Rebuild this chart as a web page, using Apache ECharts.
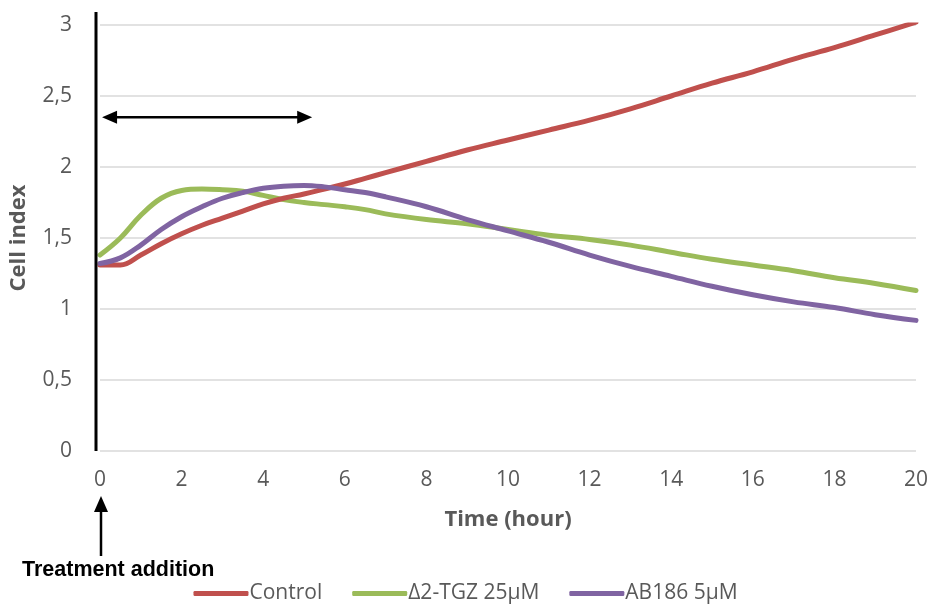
<!DOCTYPE html>
<html>
<head>
<meta charset="utf-8">
<script src="https://cdn.jsdelivr.net/npm/echarts@6/dist/echarts.min.js"></script>
<style>
html,body{margin:0;padding:0;background:#fff;}
#main{width:931px;height:608px;}
</style>
</head>
<body>
<div id="main"></div>
<script>
const times   = [0,0.5,1,1.5,2,2.5,3,3.5,4,4.5,5,5.5,6,6.5,7,8,9,10,11,12,13,14,15,16,17,18,19,20];
const control = [1.31,1.31,1.38,1.46,1.53,1.59,1.64,1.69,1.74,1.78,1.81,1.845,1.88,1.92,1.96,2.04,2.12,2.19,2.26,2.33,2.41,2.50,2.59,2.67,2.76,2.84,2.93,3.02];
const tgz     = [1.38,1.50,1.66,1.78,1.835,1.845,1.84,1.83,1.80,1.77,1.75,1.735,1.72,1.70,1.67,1.63,1.60,1.56,1.52,1.49,1.45,1.40,1.35,1.31,1.27,1.22,1.18,1.13];
const ab186   = [1.32,1.36,1.45,1.56,1.65,1.72,1.78,1.82,1.85,1.865,1.87,1.86,1.84,1.82,1.79,1.72,1.63,1.55,1.47,1.38,1.30,1.23,1.16,1.10,1.05,1.01,0.96,0.92];
const seriesNames = ['Control','Δ2-TGZ 25µM','AB186 5µM'];
const seriesColors = ['#C0504D','#9BBB59','#8064A2'];
const arrowSpan = [0.05, 5.2];
const arrowLevel = 2.35;

const pairs = arr => times.map((t,i)=>[t,arr[i]]);
const values = [control, tgz, ab186];
const font = '"Open Sans", "Noto Sans", sans-serif';

const chart = echarts.init(document.getElementById('main'), null, {renderer:'canvas'});
const option = {
  animation:false,
  backgroundColor:'#fff',
  grid:{left:100,right:11,top:25,bottom:157,containLabel:false},
  xAxis:{
    type:'value',min:0,max:20,interval:2,
    name:'Time (hour)',nameLocation:'middle',nameGap:58,
    nameTextStyle:{color:'#595959',fontSize:22,fontWeight:'bold',fontFamily:font},
    axisLine:{show:false},axisTick:{show:false},
    splitLine:{show:false},
    axisLabel:{color:'#595959',fontSize:21,fontFamily:font,margin:19}
  },
  yAxis:{
    type:'value',min:0,max:3,interval:0.5,
    name:'Cell index',nameLocation:'middle',nameGap:70,
    nameTextStyle:{color:'#595959',fontSize:22,fontWeight:'bold',fontFamily:font},
    axisLine:{show:false},axisTick:{show:false},
    splitLine:{lineStyle:{color:'#D9D9D9',width:1.5}},
    axisLabel:{color:'#595959',fontSize:21,fontFamily:font,margin:28,
      formatter:v=>String(v).replace('.',',')}
  },
  legend:{
    data:seriesNames,top:578,left:'center',
    icon:'roundRect',itemWidth:55,itemHeight:5,itemGap:30,
    textStyle:{color:'#595959',fontSize:21,fontFamily:font,padding:[0,0,0,-4]}
  },
  series:values.map((arr,i)=>({
    name:seriesNames[i],type:'line',data:pairs(arr),smooth:0.4,
    showSymbol:false,symbol:'none',
    lineStyle:{color:seriesColors[i],width:5,cap:'round',join:'round'},
    itemStyle:{color:seriesColors[i]},
    z:[3,2,4][i]
  }))
};
chart.setOption(option);

const p = (x,y)=>chart.convertToPixel({gridIndex:0},[x,y]);
const o = p(0,0);
const top3 = p(0,3);
const aL = p(arrowSpan[0],arrowLevel);
const aR = p(arrowSpan[1],arrowLevel);
const hl = 15, hw = 6.5;
const ax = o[0]+1;
chart.setOption({graphic:[
  {type:'line',shape:{x1:o[0]-4,y1:top3[1]-13,x2:o[0]-4,y2:o[1]},style:{stroke:'#000',lineWidth:3},z:10},
  {type:'line',shape:{x1:aL[0]+hl-2,y1:aL[1],x2:aR[0]-hl+2,y2:aR[1]},style:{stroke:'#000',lineWidth:2.5},z:10},
  {type:'polygon',shape:{points:[[aL[0],aL[1]],[aL[0]+hl,aL[1]-hw],[aL[0]+hl,aL[1]+hw]]},style:{fill:'#000'},z:10},
  {type:'polygon',shape:{points:[[aR[0],aR[1]],[aR[0]-hl,aR[1]-hw],[aR[0]-hl,aR[1]+hw]]},style:{fill:'#000'},z:10},
  {type:'line',shape:{x1:ax,y1:o[1]+58,x2:ax,y2:o[1]+105},style:{stroke:'#000',lineWidth:2.5},z:10},
  {type:'polygon',shape:{points:[[ax,o[1]+45],[ax-7,o[1]+61],[ax+7,o[1]+61]]},style:{fill:'#000'},z:10},
  {type:'text',x:22,y:o[1]+119,style:{text:'Treatment addition',fill:'#000',font:'bold 21.5px "Liberation Sans", Arial, sans-serif',textAlign:'left',textVerticalAlign:'middle'},z:10}
]});
</script>
</body>
</html>
